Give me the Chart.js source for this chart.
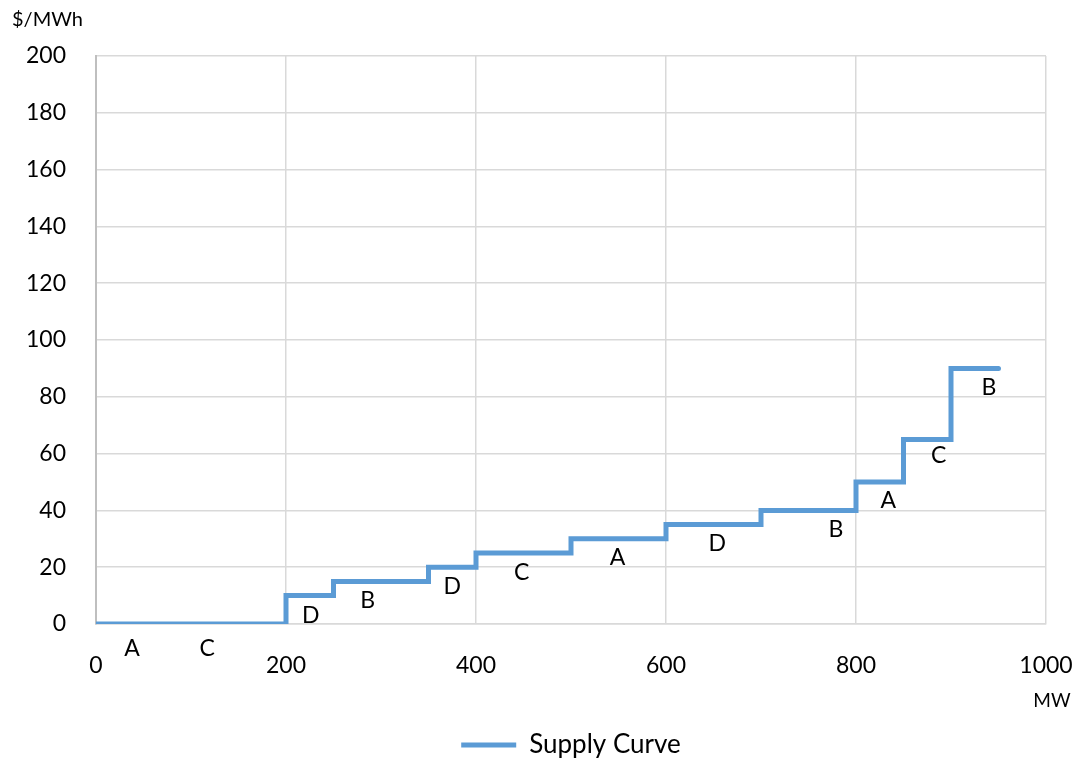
<!DOCTYPE html>
<html>
<head>
<meta charset="utf-8">
<script src="https://cdn.jsdelivr.net/npm/chart.js@4/dist/chart.umd.min.js"></script>
<style>
  html, body { margin: 0; padding: 0; background: #fff; }
  #wrap { width: 1082px; height: 759px; position: relative; }
</style>
</head>
<body>
<div id="wrap"><canvas id="supplyChart"></canvas></div>
<script>
// supply curve steps (MW where each step starts, price of that step)
const stepStartMW = [0, 200, 250, 350, 400, 500, 600, 700, 800, 850, 900];
const stepPrice = [0, 10, 15, 20, 25, 30, 35, 40, 50, 65, 90];
const lastStepEndMW = 950;

// generator letters under each step, in data coordinates
const genLabels = ['A', 'C', 'D', 'B', 'D', 'C', 'A', 'D', 'B', 'A', 'C', 'B'];
const genLabelMW = [38, 117, 226, 286, 375, 448, 549, 654, 779, 834, 887, 940];
const genLabelPrice = [-8.8, -8.8, 2.8, 8.1, 13.1, 18, 23.3, 28.2, 33.2, 43.6, 59.3, 83.4];

// axis ticks
const xTicks = [0, 200, 400, 600, 800, 1000];
const yTicks = [0, 20, 40, 60, 80, 100, 120, 140, 160, 180, 200];

const FONT = 'Lato, "Open Sans", sans-serif';
const LINE_COLOR = '#5b9bd5';

// points for the stepped line
const points = stepStartMW.map((mw, i) => ({ x: mw, y: stepPrice[i] }));
points.push({ x: lastStepEndMW, y: stepPrice[stepPrice.length - 1] });

// draws the A/B/C/D letters and the two axis titles
const textPlugin = {
  id: 'textPlugin',
  afterDatasetsDraw(chart) {
    const ctx = chart.ctx;
    const xs = chart.scales.x;
    const ys = chart.scales.y;
    ctx.save();
    ctx.fillStyle = '#000';
    ctx.textAlign = 'center';
    ctx.textBaseline = 'middle';
    ctx.font = '23px ' + FONT;
    genLabels.forEach((t, i) => {
      ctx.fillText(t, xs.getPixelForValue(genLabelMW[i]), ys.getPixelForValue(genLabelPrice[i]));
    });
    // axis titles
    ctx.font = '20px ' + FONT;
    ctx.textAlign = 'left';
    ctx.fillText('$/MWh', 12, 20);
    ctx.textAlign = 'center';
    ctx.font = '19px ' + FONT;
    ctx.fillText('MW', 1052, 701);
    ctx.restore();
  }
};

const chart = new Chart(document.getElementById('supplyChart'), {
  type: 'line',
  data: {
    datasets: [{
      label: 'Supply Curve',
      data: points,
      stepped: 'before',
      borderColor: LINE_COLOR,
      backgroundColor: LINE_COLOR,
      borderWidth: 5,
      borderCapStyle: 'round',
      borderJoinStyle: 'miter',
      pointRadius: 0,
      fill: false,
      tension: 0
    }]
  },
  options: {
    responsive: true,
    maintainAspectRatio: false,
    animation: false,
    layout: {
      padding: { top: 56, left: 0, right: 36, bottom: -9 }
    },
    plugins: {
      legend: {
        position: 'bottom',
        fullSize: false,
        labels: {
          usePointStyle: true,
          pointStyle: 'line',
          boxWidth: 55,
          pointStyleWidth: 55,
          padding: 0,
          color: '#000',
          font: { family: FONT, size: 26 }
        }
      },
      tooltip: { enabled: false }
    },
    scales: {
      x: {
        type: 'linear',
        min: 0,
        max: 1000,
        afterBuildTicks: (scale) => { scale.ticks = xTicks.map(v => ({ value: v })); },
        afterFit: (scale) => {
          scale.height = 108;
          scale.paddingLeft = 0;
          scale.paddingRight = 0;
        },
        grid: { color: '#d9d9d9', lineWidth: 1.5, drawTicks: false },
        border: { color: '#d9d9d9', width: 1.5 },
        ticks: {
          padding: 28,
          color: '#000',
          maxRotation: 0,
          font: { family: FONT, size: 23 },
          callback: (v) => String(v)
        }
      },
      y: {
        min: 0,
        max: 200,
        afterBuildTicks: (scale) => { scale.ticks = yTicks.map(v => ({ value: v })); },
        afterFit: (scale) => { scale.width = 96; },
        grid: { color: '#d9d9d9', lineWidth: 1.5, drawTicks: false },
        border: { color: '#bfbfbf', width: 2 },
        ticks: {
          padding: 30,
          color: '#000',
          font: { family: FONT, size: 23 },
          callback: (v) => String(v)
        }
      }
    }
  },
  plugins: [textPlugin]
});
</script>
</body>
</html>
